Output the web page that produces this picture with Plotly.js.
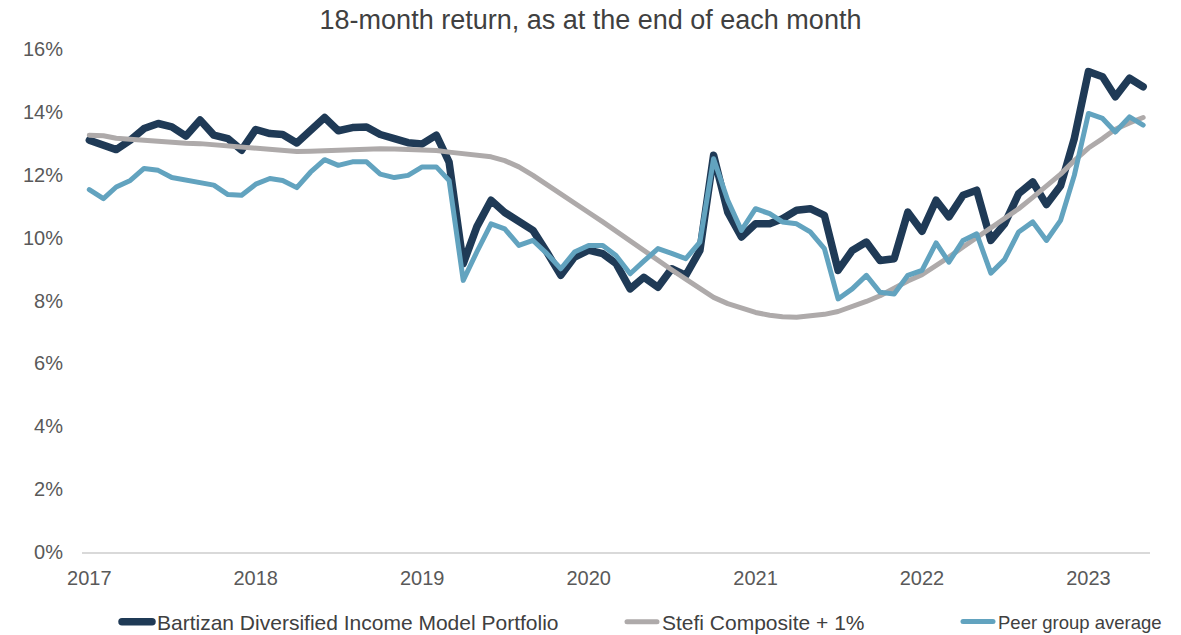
<!DOCTYPE html>
<html>
<head>
<meta charset="utf-8">
<script src="https://cdn.plot.ly/plotly-3.0.1.min.js"></script>
<style>
  html, body { margin: 0; padding: 0; background: #ffffff; }
  #chart { width: 1181px; height: 635px; }
  .scatterlayer path.js-line, .legendlines path.js-line { stroke-linejoin: round; stroke-linecap: round; }
</style>
</head>
<body>
<div id="chart"></div>
<script>
// Monthly observation dates: Jan 2017 .. May 2023
const months = [];
for (let y = 2017; y <= 2023; y++) {
  for (let m = 1; m <= 12; m++) {
    if (y === 2023 && m > 5) break;
    months.push(y + '-' + String(m).padStart(2, '0') + '-01');
  }
}

const seriesNames = [
  'Bartizan Diversified Income Model Portfolio',
  'Stefi Composite + 1%',
  'Peer group average'
];

// 18-month returns (%)
const bartizan = [
  13.10, 12.95, 12.80, 13.10, 13.47, 13.63, 13.52, 13.23, 13.74, 13.26, 13.15, 12.78,
  13.44, 13.31, 13.28, 13.01, 13.42, 13.82, 13.40, 13.50, 13.52, 13.28, 13.15, 13.02,
  12.98, 13.26, 12.40, 9.17, 10.35, 11.19, 10.80, 10.50, 10.23, 9.55, 8.80, 9.38,
  9.60, 9.49, 9.18, 8.37, 8.74, 8.42, 9.01, 8.80, 9.59, 12.62, 10.81, 10.02,
  10.44, 10.44, 10.60, 10.87, 10.92, 10.71, 8.96, 9.59, 9.86, 9.27, 9.33, 10.81,
  10.20, 11.19, 10.66, 11.35, 11.51, 9.91, 10.44, 11.40, 11.77, 11.05, 11.65, 13.15,
  15.28, 15.12, 14.48, 15.07, 14.80
];

const stefi = [
  13.26, 13.24, 13.16, 13.12, 13.10, 13.08, 13.04, 13.00, 12.99, 12.95, 12.91, 12.88,
  12.85, 12.82, 12.77, 12.74, 12.75, 12.77, 12.78, 12.80, 12.82, 12.83, 12.82, 12.81,
  12.79, 12.77, 12.72, 12.67, 12.62, 12.57, 12.45, 12.25, 11.98, 11.70, 11.40, 11.10,
  10.80, 10.50, 10.20, 9.90, 9.58, 9.28, 8.98, 8.68, 8.40, 8.10, 7.90, 7.75,
  7.62, 7.53, 7.48, 7.47, 7.50, 7.56, 7.65, 7.80, 7.97, 8.15, 8.40, 8.62,
  8.82, 9.10, 9.38, 9.70, 10.00, 10.30, 10.60, 10.92, 11.28, 11.65, 12.02, 12.45,
  12.85, 13.15, 13.45, 13.65, 13.82
];

const peer = [
  11.53, 11.24, 11.61, 11.82, 12.20, 12.14, 11.91, 11.82, 11.77, 11.67, 11.37, 11.35,
  11.70, 11.88, 11.82, 11.59, 12.08, 12.48, 12.30, 12.41, 12.41, 12.02, 11.91, 11.98,
  12.25, 12.25, 11.82, 8.64, 9.55, 10.44, 10.28, 9.75, 9.91, 9.50, 9.01, 9.54,
  9.75, 9.75, 9.43, 8.85, 9.25, 9.65, 9.50, 9.33, 9.86, 12.51, 11.19, 10.23,
  10.92, 10.76, 10.50, 10.44, 10.18, 9.65, 8.05, 8.37, 8.80, 8.26, 8.21, 8.80,
  8.96, 9.83, 9.22, 9.91, 10.12, 8.87, 9.30, 10.18, 10.50, 9.91, 10.55, 11.98,
  13.95, 13.79, 13.36, 13.84, 13.58
];

const yTickVals = [0, 2, 4, 6, 8, 10, 12, 14, 16];
const yTickText = ['0%', '2%', '4%', '6%', '8%', '10%', '12%', '14%', '16%'];
const xTickVals = ['2017-01-01', '2018-01-01', '2019-01-01', '2020-01-01', '2021-01-01', '2022-01-01', '2023-01-01'];
const xTickText = ['2017', '2018', '2019', '2020', '2021', '2022', '2023'];

const colors = ['#1f3a56', '#aeaaaa', '#62a3bf'];
const widths = [7.5, 5, 5];
const seriesData = [bartizan, stefi, peer];
const legendIds = ['legend', 'legend2', 'legend3'];

const traces = seriesData.map((vals, k) => ({
  type: 'scatter',
  mode: 'lines',
  x: months,
  y: vals,
  name: seriesNames[k],
  legend: legendIds[k],
  line: { color: colors[k], width: widths[k], shape: 'linear' },
  hoverinfo: 'x+y+name'
}));

const font = 'Liberation Sans, Arial, sans-serif';
const legendBase = {
  orientation: 'h',
  xref: 'container', yref: 'container',
  xanchor: 'left', yanchor: 'middle',
  y: 1 - 622 / 635,
  font: { family: font, size: 21, color: '#404040' },
  bgcolor: 'rgba(0,0,0,0)',
  borderwidth: 0,
  itemwidth: 30
};

const layout = {
  width: 1181,
  height: 635,
  paper_bgcolor: '#ffffff',
  plot_bgcolor: '#ffffff',
  margin: { l: 82, r: 31, t: 49, b: 83, pad: 0 },
  font: { family: font, color: '#595959' },
  title: {
    text: '18-month return, as at the end of each month',
    font: { family: font, size: 27, color: '#404040' },
    x: 0.5, xanchor: 'center',
    xref: 'container', yref: 'container',
    y: 1 - 20 / 635, yanchor: 'middle'
  },
  xaxis: {
    type: 'date',
    range: ['2016-12-16', '2023-05-16'],
    tickvals: xTickVals,
    ticktext: xTickText,
    ticks: '',
    showgrid: false,
    zeroline: false,
    showline: true,
    linecolor: '#d9d9d9',
    linewidth: 1.5,
    tickfont: { family: font, size: 20, color: '#595959' },
    ticklabelstandoff: 7,
    fixedrange: true
  },
  yaxis: {
    range: [0, 16],
    tickvals: yTickVals,
    ticktext: yTickText,
    ticks: '',
    showgrid: false,
    zeroline: false,
    showline: false,
    tickfont: { family: font, size: 20, color: '#595959' },
    ticklabelstandoff: 18,
    fixedrange: true
  },
  showlegend: true,
  legend: Object.assign({}, legendBase, { x: 117 / 1181 }),
  legend2: Object.assign({}, legendBase, { x: 622 / 1181 }),
  legend3: Object.assign({}, legendBase, { x: 958 / 1181, font: { family: font, size: 18.5, color: '#404040' } })
};

Plotly.newPlot('chart', traces, layout, { displayModeBar: false, staticPlot: true });
</script>
</body>
</html>
